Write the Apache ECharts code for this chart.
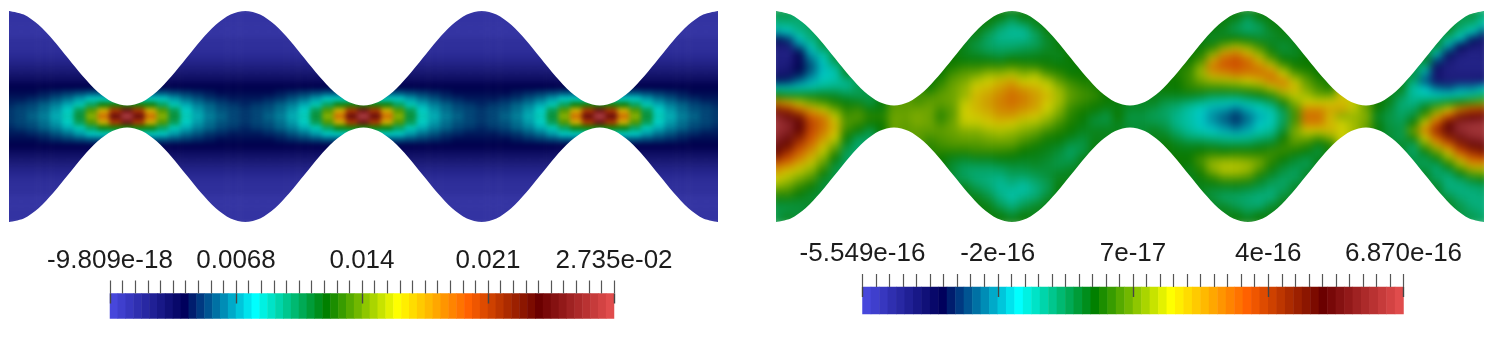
<!DOCTYPE html>
<html><head><meta charset="utf-8">
<style>
html,body{margin:0;padding:0;background:#fff;width:1500px;height:343px;overflow:hidden}
.clip{position:absolute;top:0;height:343px}
#clipL{left:0;width:740px;clip-path:path('M9 11H718V222H9Z')}
#clipR{left:740px;width:760px;clip-path:path('M36 11H744V222H36Z')}
#fieldL{position:absolute;left:0;top:0;width:740px;height:343px;filter:blur(2.4px)}
#fieldR{position:absolute;left:0;top:0;width:760px;height:343px;filter:blur(4px)}
#over{position:absolute;left:0;top:0;width:1500px;height:343px}
</style>
<script src="https://cdn.jsdelivr.net/npm/echarts@6/dist/echarts.min.js"></script>
</head><body>
<div class="clip" id="clipL"><div id="fieldL"></div></div>
<div class="clip" id="clipR"><div id="fieldR"></div></div>
<div id="over"></div>
<script>
// All field values are percent of each colour scale's range.
const leftTickLabels=['-9.809e-18','0.0068','0.014','0.021','2.735e-02'];
const rightTickLabels=['-5.549e-16','-2e-16','7e-17','4e-16','6.870e-16'];
const barLevels=[0,1.6,3.2,4.8,6.3,7.9,9.5,11.1,12.7,14.3,15.9,17.5,19,20.6,22.2,23.8,25.4,27,28.6,30.2,31.7,33.3,34.9,36.5,38.1,39.7,41.3,42.9,44.4,46,47.6,49.2,50.8,52.4,54,55.6,57.1,58.7,60.3,61.9,63.5,65.1,66.7,68.3,69.8,71.4,73,74.6,76.2,77.8,79.4,81,82.5,84.1,85.7,87.3,88.9,90.5,92.1,93.7,95.2,96.8,98.4,100];
const boundary=[105.5,101.9,91.7,76.3,58.3,40.2,24.8,14.6,11,14.6,24.8,40.2,58.3,76.3,91.7,101.9,105.5,101.9,91.7,76.3,58.3,40.2,24.8,14.6,11,14.6,24.8,40.2,58.3,76.3,91.7,101.9,105.5,101.9,91.7,76.3,58.3,40.2,24.8,14.6,11,14.6,24.8,40.2,58.3,76.3,91.7,101.9,105.5];

// Left panel: rows, by distance from the centre line
const L0=[18,19,21,23,26,30,39,52,68,88,100,88,68,52,39,30,26,23,21,19,18,19,21,23,26,30,39,52,68,88,100,88,68,52,39,30,26,23,21,19,18,19,21,23,26,30,39,52,68,88,100,88,68,52,39,30,26,23,21,19,18];
const L1=[18,19,20,22,25,29,37,48,61,76,90,76,61,48,37,29,25,22,20,19,18,19,20,22,25,29,37,48,61,76,90,76,61,48,37,29,25,22,20,19,18,19,20,22,25,29,37,48,61,76,90,76,61,48,37,29,25,22,20,19,18];
const L2=[17,18,19,21,23,26,30,36,42,44,44,44,42,36,30,26,23,21,19,18,17,18,19,21,23,26,30,36,42,44,44,44,42,36,30,26,23,21,19,18,17,18,19,21,23,26,30,36,42,44,44,44,42,36,30,26,23,21,19,18,17];
const L3=[16,16,17,18,20,22,25,28,29,29,29,29,29,28,25,22,20,18,17,16,16,16,17,18,20,22,25,28,29,29,29,29,29,28,25,22,20,18,17,16,16,16,17,18,20,22,25,28,29,29,29,29,29,28,25,22,20,18,17,16,16];
const L4=[15,15,15,16,17,18,19,20,20,20,20,20,20,20,19,18,17,16,15,15,15,15,15,16,17,18,19,20,20,20,20,20,20,20,19,18,17,16,15,15,15,15,15,16,17,18,19,20,20,20,20,20,20,20,19,18,17,16,15,15,15];
const L5=[14,14,14,14,14,14,14,14,14,14,14,14,14,14,14,14,14,14,14,14,14,14,14,14,14,14,14,14,14,14,14,14,14,14,14,14,14,14,14,14,14,14,14,14,14,14,14,14,14,14,14,14,14,14,14,14,14,14,14,14,14];
const L6=[12,12,12,12,12,12,12,12,12,12,12,12,12,12,12,12,12,12,12,12,12,12,12,12,12,12,12,12,12,12,12,12,12,12,12,12,12,12,12,12,12,12,12,12,12,12,12,12,12,12,12,12,12,12,12,12,12,12,12,12,12];
const L7=[10,10,10,10,10,10,10,10,10,10,10,10,10,10,10,10,10,10,10,10,10,10,10,10,10,10,10,10,10,10,10,10,10,10,10,10,10,10,10,10,10,10,10,10,10,10,10,10,10,10,10,10,10,10,10,10,10,10,10,10,10];
const L8=[8,8,8,8,8,8,8,8,8,8,8,8,8,8,8,8,8,8,8,8,8,8,8,8,8,8,8,8,8,8,8,8,8,8,8,8,8,8,8,8,8,8,8,8,8,8,8,8,8,8,8,8,8,8,8,8,8,8,8,8,8];
const L9=[6,6,6,6,6,6,6,6,6,6,6,6,6,6,6,6,6,6,6,6,6,6,6,6,6,6,6,6,6,6,6,6,6,6,6,6,6,6,6,6,6,6,6,6,6,6,6,6,6,6,6,6,6,6,6,6,6,6,6,6,6];
const L10=[4.5,4.5,4.5,4.5,4.5,4.5,4.5,4.5,4.5,4.5,4.5,4.5,4.5,4.5,4.5,4.5,4.5,4.5,4.5,4.5,4.5,4.5,4.5,4.5,4.5,4.5,4.5,4.5,4.5,4.5,4.5,4.5,4.5,4.5,4.5,4.5,4.5,4.5,4.5,4.5,4.5,4.5,4.5,4.5,4.5,4.5,4.5,4.5,4.5,4.5,4.5,4.5,4.5,4.5,4.5,4.5,4.5,4.5,4.5,4.5,4.5];
const L11=[3.5,3.5,3.5,3.5,3.5,3.5,3.5,3.5,3.5,3.5,3.5,3.5,3.5,3.5,3.5,3.5,3.5,3.5,3.5,3.5,3.5,3.5,3.5,3.5,3.5,3.5,3.5,3.5,3.5,3.5,3.5,3.5,3.5,3.5,3.5,3.5,3.5,3.5,3.5,3.5,3.5,3.5,3.5,3.5,3.5,3.5,3.5,3.5,3.5,3.5,3.5,3.5,3.5,3.5,3.5,3.5,3.5,3.5,3.5,3.5,3.5];
const L12=[3,3,3,3,3,3,3,3,3,3,3,3,3,3,3,3,3,3,3,3,3,3,3,3,3,3,3,3,3,3,3,3,3,3,3,3,3,3,3,3,3,3,3,3,3,3,3,3,3,3,3,3,3,3,3,3,3,3,3,3,3];
const L13=L12;
const L14=[2,2,2,2,2,2,2,2,2,2,2,2,2,2,2,2,2,2,2,2,2,2,2,2,2,2,2,2,2,2,2,2,2,2,2,2,2,2,2,2,2,2,2,2,2,2,2,2,2,2,2,2,2,2,2,2,2,2,2,2,2];
const L15=L14,L16=L14,L17=L14,L18=L14;
const leftRows=[L18,L17,L16,L15,L14,L13,L12,L11,L10,L9,L8,L7,L6,L5,L4,L3,L2,L1,L0,L1,L2,L3,L4,L5,L6,L7,L8,L9,L10,L11,L12,L13,L14,L15,L16,L17,L18];

// Right panel: columns, top to bottom
const R00=[38,36,33,26,15,8,7,7,7,9,16,30,43,65,82,95,98,97,95,90,85,78,68,62,57,52,46,41,38,38,38];
const R01=[37,37,33,28,18,9,6,7,8,10,17,30,41,62,77,88,95,94,90,84,78,72,65,58,54,50,46,41,38,40,40];
const R02=[35,35,35,33,28,22,14,12,14,16,22,30,41,55,68,82,87,85,80,75,70,66,60,55,50,46,43,40,39,39,39];
const R03=[36,36,36,36,34,30,26,22,20,22,26,31,41,50,62,70,74,73,71,68,64,60,55,51,47,43,40,40,40,40,40];
const R04=[38,38,38,38,38,38,32,29,27,28,30,33,41,47,56,66,68,67,64,60,56,52,48,44,40,39,39,39,39,39,39];
const R05=[38,38,38,38,38,38,38,38,32,30,31,34,40,44,50,56,60,60,57,52,47,43,39,38,38,38,38,38,38,38,38];
const R06=[40,40,40,40,40,40,40,40,40,40,33,33,38,42,45,47,48,46,43,40,37,36,36,36,36,36,36,36,36,36,36];
const R07=[37,37,37,37,37,37,37,37,37,37,37,37,37,41,46,48,46,43,37,35,35,35,35,35,35,35,35,35,35,35,35];
const R08=[38,38,38,38,38,38,38,38,38,38,38,38,38,38,42,45,43,38,36,36,36,36,36,36,36,36,36,36,36,36,36];
const R09=[42,42,42,42,42,42,42,42,42,42,42,42,42,42,42,45,43,43,43,43,43,43,43,43,43,43,43,43,43,43,43];
const R10=[49,49,49,49,49,49,49,49,49,49,49,49,49,49,49,50,50,50,50,50,50,50,50,50,50,50,50,50,50,50,50];
const R11=[49,49,49,49,49,49,49,49,49,49,49,49,49,49,49,50,49,49,49,49,49,49,49,49,49,49,49,49,49,49,49];
const R12=[47,47,47,47,47,47,47,47,47,47,47,47,47,47,50,51,51,49,49,49,49,49,49,49,49,49,49,49,49,49,49];
const R13=[43,43,43,43,43,43,43,43,43,43,43,43,47,49,50,50,50,49,47,45,45,45,45,45,45,45,45,45,45,45,45];
const R14=[43,43,43,43,43,43,43,43,43,43,45,47,49,49,47,45,47,49,48,47,45,43,43,43,43,43,43,43,43,43,43];
const R15=[43,43,43,43,43,43,43,43,44,47,49,50,50,50,49,49,50,50,49,48,45,41,39,39,39,39,39,39,39,39,39];
const R16=[41,41,41,41,41,41,41,42,46,49,51,53,53,56,57,57,56,52,50,48,45,40,37,36,37,41,41,41,41,41,41];
const R17=[42,42,42,42,40,38,40,42,46,50,55,58,60,60,60,58,56,52,50,48,46,41,37,35,35,37,40,42,42,42,42];
const R18=[42,42,42,38,36,36,38,42,47,53,57,60,62,63,62,60,58,54,51,49,46,41,37,35,34,35,37,40,42,42,42];
const R19=[42,42,37,34,33,35,37,41,47,53,60,63,65,66,65,63,59,55,52,49,46,42,38,35,33,32,33,35,38,42,42];
const R20=[42,38,34,32,33,35,38,43,48,55,62,66,68,68,66,63,58,54,51,49,45,42,39,37,35,33,31,32,35,39,42];
const R21=[42,42,36,32,33,36,39,42,47,52,57,63,66,66,64,60,55,52,49,46,43,41,39,37,34,31,32,35,38,42,42];
const R22=[41,41,41,37,36,37,40,42,46,54,57,61,63,63,62,58,54,50,47,44,42,41,40,38,36,34,34,37,41,41,41];
const R23=[42,42,42,42,40,40,41,42,44,48,55,57,60,58,57,54,51,47,44,42,41,40,39,39,38,37,38,41,41,41,41];
const R24=[42,42,42,42,42,42,41,41,43,46,49,53,54,54,52,50,47,45,43,41,39,38,38,40,41,42,42,42,42,42,42];
const R25=[43,43,43,43,43,43,43,43,42,43,46,48,49,48,46,45,44,43,41,38,36,37,39,41,41,41,41,41,41,41,41];
const R26=[43,43,43,43,43,43,43,43,43,43,44,46,47,46,44,43,42,41,39,38,38,41,41,41,41,41,41,41,41,41,41];
const R27=[44,44,44,44,44,44,44,44,44,44,44,44,46,44,43,40,39,41,41,42,42,42,42,42,42,42,42,42,42,42,42];
const R28=[43,43,43,43,43,43,43,43,43,43,43,43,43,43,41,38,39,41,41,41,41,41,41,41,41,41,41,41,41,41,41];
const R29=[42,42,42,42,42,42,42,42,42,42,42,42,42,42,42,43,41,41,41,41,41,41,41,41,41,41,41,41,41,41,41];
const R30=[40,40,40,40,40,40,40,40,40,40,40,40,40,40,40,38,39,39,39,39,39,39,39,39,39,39,39,39,39,39,39];
const R31=[40,40,40,40,40,40,40,40,40,40,40,40,40,40,40,38,39,39,39,39,39,39,39,39,39,39,39,39,39,39,39];
const R32=[41,41,41,41,41,41,41,41,41,41,41,41,41,41,38,37,38,41,41,41,41,41,41,41,41,41,41,41,41,41,41];
const R33=[43,43,43,43,43,43,43,43,43,43,43,43,41,38,36,36,37,39,41,43,43,43,43,43,43,43,43,43,43,43,43];
const R34=[44,44,44,44,44,44,44,44,44,44,43,43,41,37,34,33,33,35,38,41,42,43,43,43,43,43,43,43,43,43,43];
const R35=[43,43,43,43,43,43,43,43,45,46,46,45,41,35,31,31,31,32,35,40,42,43,42,41,41,41,41,41,41,41,41];
const R36=[42,42,42,42,42,42,44,47,52,53,50,46,40,33,29,28,28,30,34,40,43,47,46,44,42,41,41,41,41,41,41];
const R37=[42,42,42,42,40,44,51,62,67,62,53,46,38,31,26,24,25,28,33,39,44,50,53,50,44,41,38,40,40,40,40];
const R38=[42,42,42,40,42,50,63,70,70,64,54,46,38,30,25,21,22,26,32,38,43,51,55,54,47,41,37,37,41,41,41];
const R39=[42,42,38,38,43,54,66,72,71,67,55,47,38,29,22,18,19,24,31,38,44,51,55,54,47,41,37,36,38,42,42];
const R40=[42,37,35,36,42,51,60,68,69,66,57,48,40,31,26,22,23,26,32,38,44,50,54,52,46,40,36,35,36,39,42];
const R41=[42,42,37,37,40,46,52,60,66,67,60,50,42,33,29,26,28,30,34,40,44,49,50,46,41,38,35,34,36,42,42];
const R42=[42,42,42,40,40,41,44,50,60,67,66,55,45,37,31,30,30,32,36,41,46,46,44,41,38,36,34,36,41,41,41];
const R43=[42,42,42,42,41,39,40,43,50,57,66,62,52,44,38,36,37,39,43,45,46,43,40,38,36,36,38,41,41,41,41];
const R44=[41,41,41,41,41,41,40,42,44,49,56,60,56,52,48,47,48,51,50,48,44,40,38,36,37,40,40,40,40,40,40];
const R45=[43,43,43,43,43,43,43,43,43,46,49,51,54,57,65,68,66,58,51,46,42,38,37,40,40,40,40,40,40,40,40];
const R46=[43,43,43,43,43,43,43,43,43,43,45,47,50,57,65,68,66,58,48,42,38,41,41,41,41,41,41,41,41,41,41];
const R47=[44,44,44,44,44,44,44,44,44,44,44,44,50,58,62,60,60,60,52,44,44,44,44,44,44,44,44,44,44,44,44];
const R48=[59,59,59,59,59,59,59,59,59,59,59,59,59,59,62,52,57,57,57,57,57,57,57,57,57,57,57,57,57,57,57];
const R49=[56,56,56,56,56,56,56,56,56,56,56,56,56,56,56,53,54,54,54,54,54,54,54,54,54,54,54,54,54,54,54];
const R50=[50,50,50,50,50,50,50,50,50,50,50,50,50,50,50,52,50,50,50,50,50,50,50,50,50,50,50,50,50,50,50];
const R51=[43,43,43,43,43,43,43,43,43,43,43,43,43,43,43,40,42,42,42,42,42,42,42,42,42,42,42,42,42,42,42];
const R52=[41,41,41,41,41,41,41,41,41,41,41,41,41,41,39,38,38,39,39,39,39,39,39,39,39,39,39,39,39,39,39];
const R53=[41,41,41,41,41,41,41,41,41,41,41,41,38,35,35,36,37,38,37,40,40,40,40,40,40,40,40,40,40,40,40];
const R54=[38,38,38,38,38,38,38,38,38,38,35,31,32,33,36,39,43,50,44,37,35,38,38,38,38,38,38,38,38,38,38];
const R55=[40,40,40,40,40,40,40,40,33,25,20,28,30,36,42,48,58,66,58,50,42,37,37,40,40,40,40,40,40,40,40];
const R56=[39,39,39,39,39,39,30,20,11,9,10,22,29,38,50,62,71,78,70,62,50,42,36,35,37,40,40,40,40,40,40];
const R57=[40,40,40,40,33,26,16,9,7,7,8,20,29,41,58,72,85,88,80,70,60,52,43,36,34,34,36,40,40,40,40];
const R58=[37,37,37,33,28,14,8,6,6,7,8,24,30,44,67,83,95,96,90,80,72,62,53,43,36,34,34,36,38,38,38];
const R59=[38,38,34,29,16,9,6,6,6,7,8,24,32,47,72,87,97,98,95,88,78,70,62,50,40,35,34,34,35,37,37];
const R60=[36,33,30,20,10,7,7,6,6,7,9,28,35,50,75,89,98,98,97,90,82,72,62,52,42,36,35,34,34,35,36];
const rightCols=[R00,R01,R02,R03,R04,R05,R06,R07,R08,R09,R10,R11,R12,R13,R14,R15,R16,R17,R18,R19,R20,R21,R22,R23,R24,R25,R26,R27,R28,R29,R30,R31,R32,R33,R34,R35,R36,R37,R38,R39,R40,R41,R42,R43,R44,R45,R46,R47,R48,R49,R50,R51,R52,R53,R54,R55,R56,R57,R58,R59,R60];

const barColors=['#4747db','#00005c','#00ffff','#008000','#ffff00','#ff6100','#6b0000','#e04c4c'];
const litColors=['#3b3bb0','#00004c','#00cfc8','#0a7800','#cfcf00','#d05000','#5a0000','#ab3c40'];
const names=n=>Array.from({length:n},(_,i)=>String(i));
const hidden=(n,extra)=>Object.assign({type:'category',data:names(n),show:false},extra||{});

// ---- field layers ----
const leftData=[];leftRows.forEach((row,y)=>row.forEach((v,x)=>leftData.push([x,y,v])));
const rightData=[];rightCols.forEach((col,x)=>col.forEach((v,y)=>rightData.push([x,y,v])));
const cw=11.82,lh=211/36,rh=211/30;
const drawField=(id,left,width,rowH,rows,data)=>{
  echarts.init(document.getElementById(id),null,{renderer:'canvas'}).setOption({animation:false,
    grid:{left:left-cw/2,top:11-rowH/2,width:width+cw,height:211+rowH},
    xAxis:hidden(61),yAxis:hidden(rows,{inverse:true}),
    visualMap:{show:false,type:'continuous',min:0,max:100,inRange:{color:litColors}},
    series:[{type:'heatmap',data:data,silent:true,progressive:0}]});
};
drawField('fieldL',9,709,lh,37,leftData);
drawField('fieldR',36,708,rh,31,rightData);

// ---- overlay: white mask outside the channel, colour bars, ticks, labels ----
const over=echarts.init(document.getElementById('over'),null,{renderer:'canvas'});
const lower=boundary.map(v=>-v);
const maskSeries=(g,data,origin)=>({type:'line',xAxisIndex:g,yAxisIndex:g,data:data,smooth:0.3,symbol:'none',silent:true,
  lineStyle:{width:0},areaStyle:{color:'#fff',opacity:1,origin:origin}});
const font={color:'#1c1c1c',fontFamily:'"Liberation Sans",Arial,sans-serif',fontSize:26};
const minorAxis=g=>({type:'value',gridIndex:g,min:0,max:40,interval:1,position:'top',z:10,
  axisLine:{show:false},splitLine:{show:false},axisLabel:{show:false},
  axisTick:{show:true,length:13,lineStyle:{color:'#555',width:1.2}}});
const majorAxis=(g,labels,margin)=>({type:'value',gridIndex:g,min:0,max:40,interval:10,position:'top',z:10,
  axisLine:{show:false},splitLine:{show:false},
  axisTick:{show:true,inside:true,length:10,lineStyle:{color:'#444',width:1.4}},
  axisLabel:Object.assign({show:true,inside:false,margin:margin,hideOverlap:false,showMinLabel:true,showMaxLabel:true,
    formatter:v=>labels[Math.round(v/10)]},font)});
const yHidden=g=>({type:'value',gridIndex:g,min:-105.5,max:105.5,show:false});
const barData=barLevels.map((v,i)=>[i,0,v]);
over.setOption({animation:false,
 grid:[{left:9,top:11,width:709,height:211},{left:776,top:11,width:708,height:211},
       {left:110,top:293.5,width:504,height:25},{left:862.5,top:287,width:541,height:27}],
 xAxis:[
  {type:'category',gridIndex:0,data:names(boundary.length),boundaryGap:false,show:false},
  {type:'category',gridIndex:1,data:names(boundary.length),boundaryGap:false,show:false},
  hidden(64,{gridIndex:2}),hidden(64,{gridIndex:3}),
  minorAxis(2),majorAxis(2,leftTickLabels,20),
  minorAxis(3),majorAxis(3,rightTickLabels,20)
 ],
 yAxis:[yHidden(0),yHidden(1),
  {type:'category',gridIndex:2,data:['0'],show:false},{type:'category',gridIndex:3,data:['0'],show:false}],
 visualMap:[{show:false,type:'continuous',min:0,max:100,inRange:{color:barColors},seriesIndex:[4,5]}],
 series:[
  maskSeries(0,boundary,'end'),maskSeries(0,lower,'start'),
  maskSeries(1,boundary,'end'),maskSeries(1,lower,'start'),
  {type:'heatmap',xAxisIndex:2,yAxisIndex:2,data:barData,silent:true,progressive:0},
  {type:'heatmap',xAxisIndex:3,yAxisIndex:3,data:barData,silent:true,progressive:0}
 ]});
</script>
</body></html>
